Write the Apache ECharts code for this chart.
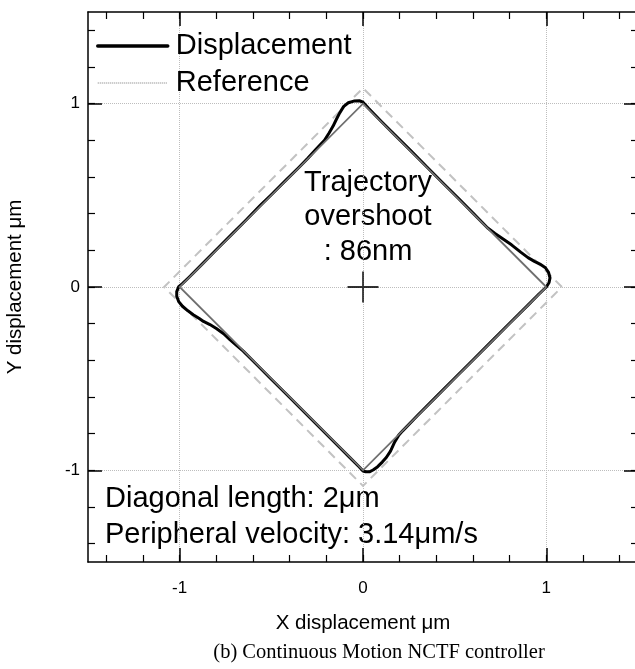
<!DOCTYPE html>
<html>
<head>
<meta charset="utf-8">
<script src="https://cdn.jsdelivr.net/npm/echarts@6/dist/echarts.min.js"></script>
<style>
  html, body { margin: 0; padding: 0; background: #fff; }
  #chart { width: 635px; height: 669px; }
</style>
</head>
<body>
<div id="chart"></div>
<script>
// Tick positions (µm)
const majorTicks = [-1, 0, 1];
const minorTicks = [-1.4, -1.2, -1.0, -0.8, -0.6, -0.4, -0.2, 0, 0.2, 0.4, 0.6, 0.8, 1.0, 1.2, 1.4];

// Commanded diamond trajectory (diagonal length 2 µm)
const refX = [1, 0, -1, 0, 1];
const refY = [0, 1, 0, -1, 0];

// Overshoot tolerance envelope
const bandX = [1.085, 0, -1.085, 0, 1.085];
const bandY = [0, 1.085, 0, -1.085, 0];

// Measured stage displacement (counter-clockwise, starting at the +X corner)
const dispX = [
  1.000, 1.015, 1.020, 1.012, 0.995, 0.965, 0.935, 0.900, 0.860, 0.810, 0.760, 0.720, 0.680,
  0.600, 0.520, 0.430, 0.350, 0.260, 0.180, 0.100, 0.030, 0.000,
  -0.020, -0.050, -0.080, -0.105, -0.127, -0.145, -0.163, -0.185, -0.210, -0.250, -0.300, -0.350,
  -0.420, -0.500, -0.560, -0.640, -0.720, -0.800, -0.880, -0.950, -0.985, -1.005,
  -1.016, -1.016, -1.005, -0.985, -0.955, -0.926, -0.895, -0.870, -0.835, -0.800, -0.760, -0.726, -0.690, -0.653,
  -0.580, -0.500, -0.420, -0.330, -0.240, -0.150, -0.070, -0.020, 0.000,
  0.015, 0.035, 0.055, 0.080, 0.105, 0.127, 0.150, 0.173, 0.195, 0.215,
  0.300, 0.400, 0.500, 0.600, 0.700, 0.800, 0.900, 0.960, 1.000
];
const dispY = [
  0.000, 0.025, 0.050, 0.080, 0.105, 0.125, 0.140, 0.160, 0.190, 0.230, 0.265, 0.292, 0.322,
  0.403, 0.484, 0.573, 0.653, 0.744, 0.823, 0.903, 0.975, 1.008,
  1.016, 1.014, 1.005, 0.985, 0.950, 0.915, 0.878, 0.840, 0.800, 0.758, 0.703, 0.652,
  0.583, 0.503, 0.445, 0.363, 0.283, 0.203, 0.122, 0.052, 0.018, 0.002,
  -0.025, -0.050, -0.080, -0.105, -0.130, -0.151, -0.170, -0.188, -0.205, -0.226, -0.255, -0.287, -0.318, -0.350,
  -0.423, -0.503, -0.582, -0.672, -0.762, -0.852, -0.932, -0.982, -1.004,
  -1.008, -1.008, -0.998, -0.980, -0.955, -0.930, -0.895, -0.845, -0.808, -0.786,
  -0.698, -0.598, -0.498, -0.398, -0.298, -0.198, -0.099, -0.038, 0.000
];

// Centre of the trajectory
const originX = [0];
const originY = [0];

const pairs = (xs, ys) => xs.map((x, i) => [x, ys[i]]);

const SANS = '"Liberation Sans", Arial, sans-serif';
const SERIF = '"Liberation Serif", "Times New Roman", serif';

function axisPair(kind, position, withLabels) {
  const base = {
    type: 'value', position: position, min: -1.5, max: 1.5,
    axisLine: { show: true, onZero: false, lineStyle: { color: '#000', width: 1.5 } },
    axisTick: { show: true, inside: true, length: 14, customValues: majorTicks,
                lineStyle: { color: '#000', width: 1.5 } },
    axisLabel: { show: false },
    splitLine: { show: false }
  };
  const minor = {
    type: 'value', position: position, min: -1.5, max: 1.5,
    axisLine: { show: false, onZero: false },
    axisTick: { show: true, inside: true, length: 7, customValues: minorTicks,
                lineStyle: { color: '#000', width: 1.2 } },
    axisLabel: { show: false },
    splitLine: { show: false }
  };
  if (withLabels) {
    base.axisLabel = { show: true, customValues: majorTicks, color: '#000',
                       fontSize: 17, fontFamily: SANS, margin: kind === 'x' ? 18 : 8 };
    base.splitLine = { show: true, lineStyle: { type: 'dotted', color: '#bdbdbd', width: 1 } };
    base.nameLocation = 'middle';
    base.nameTextStyle = { color: '#000', fontSize: 20.5, fontFamily: SANS };
    if (kind === 'x') {
      base.name = 'X displacement \u03bcm';
      base.nameGap = 51;
    } else {
      base.name = 'Y displacement \u03bcm';
      base.nameGap = 62;
    }
  }
  return [base, minor];
}

const hiddenMarker = { color: 'rgba(0,0,0,0)', borderWidth: 0, opacity: 0 };

const chart = echarts.init(document.getElementById('chart'), null, { renderer: 'canvas' });

chart.setOption({
  animation: false,
  backgroundColor: '#fff',
  grid: { left: 88, top: 12, width: 550, height: 550, containLabel: false, outerBoundsMode: 'none' },
  xAxis: [...axisPair('x', 'bottom', true), ...axisPair('x', 'top', false)],
  yAxis: [...axisPair('y', 'left', true), ...axisPair('y', 'right', false)],
  legend: {
    orient: 'vertical', left: 96, top: 31, padding: 0,
    itemWidth: 70, itemHeight: 14, itemGap: 7,
    selectedMode: false,
    textStyle: { color: '#000', fontSize: 29, fontFamily: SANS, lineHeight: 30, padding: [0, 0, 0, 3] },
    data: [
      { name: 'Displacement', itemStyle: hiddenMarker,
        lineStyle: { color: '#000', width: 3.5, type: 'solid' } },
      { name: 'Reference', itemStyle: hiddenMarker,
        lineStyle: { color: '#7a7a7a', width: 1, type: 'dotted' } }
    ]
  },
  series: [
    {
      name: 'Envelope', type: 'line', xAxisIndex: 0, yAxisIndex: 0,
      data: pairs(bandX, bandY), symbol: 'none', z: 2, silent: true,
      lineStyle: { color: '#c2c2c2', width: 2, type: [9, 6], join: 'miter' }
    },
    {
      name: 'Displacement', type: 'line', xAxisIndex: 0, yAxisIndex: 0,
      data: pairs(dispX, dispY), symbol: 'none', z: 3, silent: true,
      itemStyle: { color: '#000' },
      lineStyle: { color: '#000', width: 3, join: 'round', cap: 'round' }
    },
    {
      name: 'Reference', type: 'line', xAxisIndex: 0, yAxisIndex: 0,
      data: pairs(refX, refY), symbol: 'none', z: 4, silent: true,
      itemStyle: { color: '#7c7c7c' },
      lineStyle: { color: '#6f6f6f', width: 1.8, join: 'miter' }
    },
    {
      name: 'Origin', type: 'scatter', xAxisIndex: 0, yAxisIndex: 0,
      data: pairs(originX, originY), z: 5, silent: true,
      symbol: 'path://M15,0 L15,30 M0,15 L30,15', symbolSize: 31,
      itemStyle: { color: 'none', borderColor: '#000', borderWidth: 1.8 }
    }
  ],
  graphic: [
    {
      type: 'text', x: 368, y: 217, silent: true,
      style: {
        text: 'Trajectory\novershoot\n: 86nm', fill: '#000',
        font: '29px ' + SANS, lineHeight: 34.5,
        align: 'center', verticalAlign: 'middle',
        textAlign: 'center', textVerticalAlign: 'middle'
      }
    },
    {
      type: 'text', x: 105, y: 499, silent: true,
      style: {
        text: 'Diagonal length: 2\u03bcm', fill: '#000', font: '29px ' + SANS,
        align: 'left', verticalAlign: 'middle', textAlign: 'left', textVerticalAlign: 'middle'
      }
    },
    {
      type: 'text', x: 105, y: 535, silent: true,
      style: {
        text: 'Peripheral velocity: 3.14\u03bcm/s', fill: '#000', font: '29px ' + SANS,
        align: 'left', verticalAlign: 'middle', textAlign: 'left', textVerticalAlign: 'middle'
      }
    },
    {
      type: 'text', x: 379, y: 653, silent: true,
      style: {
        text: '(b) Continuous Motion NCTF controller', fill: '#000', font: '20.5px ' + SERIF,
        align: 'center', verticalAlign: 'middle', textAlign: 'center', textVerticalAlign: 'middle'
      }
    }
  ]
});
</script>
</body>
</html>
